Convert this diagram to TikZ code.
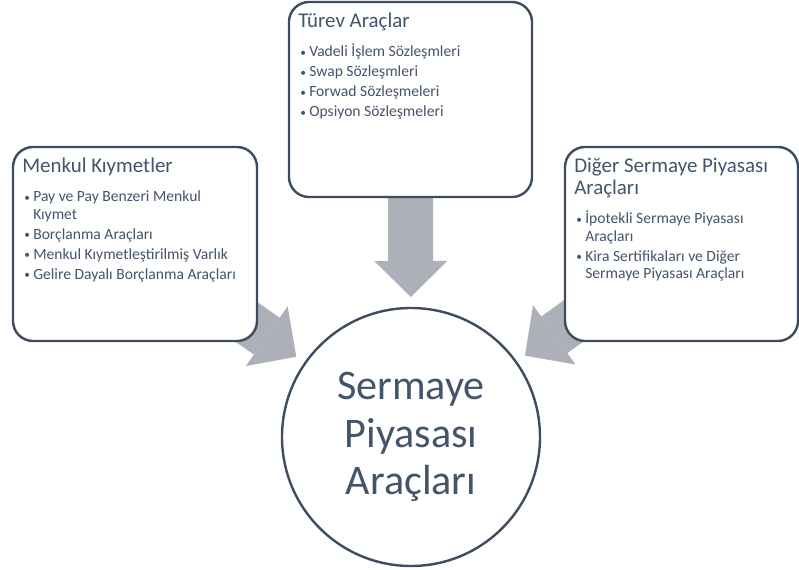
\documentclass[tikz,border=0pt]{standalone}
\usepackage{fontspec}
\setmainfont{Carlito}
\usetikzlibrary{positioning,arrows.meta,backgrounds}

\definecolor{txtblue}{HTML}{44546A}
\definecolor{rimblue}{HTML}{3E4C5F}
\definecolor{arrowgray}{HTML}{ADB0B8}

% list layout of the boxes
\newcommand{\blist}{\setlength{\leftmargin}{8.25pt}\setlength{\labelwidth}{6.75pt}%
  \setlength{\labelsep}{0pt}\setlength{\itemsep}{1.875pt}\setlength{\parsep}{0pt}%
  \setlength{\topsep}{0pt}\setlength{\partopsep}{0pt}%
  \renewcommand{\makelabel}[1]{\makebox[6.75pt][l]{##1}}}
\newcommand{\bdot}{\raisebox{0.6pt}{\fontsize{8.5}{8.5}\selectfont\textbullet}}
% box heading
\newcommand{\bhead}[1]{{\fontsize{15.7}{16.5}\selectfont #1\par}\vspace{8.625pt}}

\begin{document}
\begin{tikzpicture}[
    x=0.75pt, y=-0.75pt,
    box/.style={draw=rimblue, fill=white, line width=1.8pt, rounded corners=15pt,
      inner sep=0pt, outer sep=0pt},
    boxtxt/.style={inner sep=0pt, text=txtblue, font=\fontsize{11.7}{13.125}\selectfont},
    hub/.style={circle, draw=rimblue, fill=white, line width=1.8pt, minimum size=193.5pt,
      inner sep=0pt, outer sep=0pt, text=txtblue, align=center,
      font=\fontsize{31.6}{35.6}\selectfont},
    flow/.style={draw=arrowgray, line width=33.75pt,
      -{Triangle[width=54.75pt, length=27pt, line width=0pt]}, shorten >=8.25pt}
  ]
  \useasboundingbox (0,0) rectangle (799,570);

  % Boxes
  \node[box, minimum width=182.25pt, minimum height=146.25pt] (turev) at (410.5,99.5) {};
  \node[box, minimum width=183pt, minimum height=145.5pt] (menkul) at (135,244) {};
  \node[box, minimum width=174.75pt, minimum height=145.5pt] (diger) at (681.5,244) {};

  % Centre
  \node[hub] (sermaye) at (411,437) {Sermaye\\Piyasası\\Araçları};

  % Box texts
  \node[boxtxt, below right=19.5pt and 6.75pt of turev.north west, anchor=base west] (turevtxt) {%
    \begin{minipage}[t]{168pt}\raggedright
    \bhead{Türev Araçlar}
    \begin{list}{\bdot}{\blist}
      \item Vadeli İşlem Sözleşmleri
      \item Swap Sözleşmleri
      \item Forwad Sözleşmeleri
      \item Opsiyon Sözleşmeleri
    \end{list}
    \end{minipage}};
  \node[boxtxt, below right=19.5pt and 6.75pt of menkul.north west, anchor=base west] (menkultxt) {%
    \begin{minipage}[t]{172pt}\raggedright
    \bhead{Menkul Kıymetler}
    \begin{list}{\bdot}{\blist}
      \item Pay ve Pay Benzeri Menkul\newline Kıymet
      \item Borçlanma Araçları
      \item Menkul Kıymetleştirilmiş Varlık
      \item Gelire Dayalı Borçlanma Araçları
    \end{list}
    \end{minipage}};
  \node[boxtxt, below right=19.5pt and 6.75pt of diger.north west, anchor=base west] (digertxt) {%
    \begin{minipage}[t]{165pt}\raggedright
    \bhead{Diğer Sermaye Piyasası\newline Araçları}
    \begin{list}{\bdot}{\blist}
      \item İpotekli Sermaye Piyasası\newline Araçları
      \item Kira Sertifikaları ve Diğer\newline Sermaye Piyasası Araçları
    \end{list}
    \end{minipage}};

  % Arrows
  \begin{scope}[on background layer]
    \draw[flow] (turev.center) -- (sermaye);
    \draw[flow] (menkul.center) -- (sermaye);
    \draw[flow] (diger.center) -- (sermaye);
  \end{scope}
\end{tikzpicture}
\end{document}
